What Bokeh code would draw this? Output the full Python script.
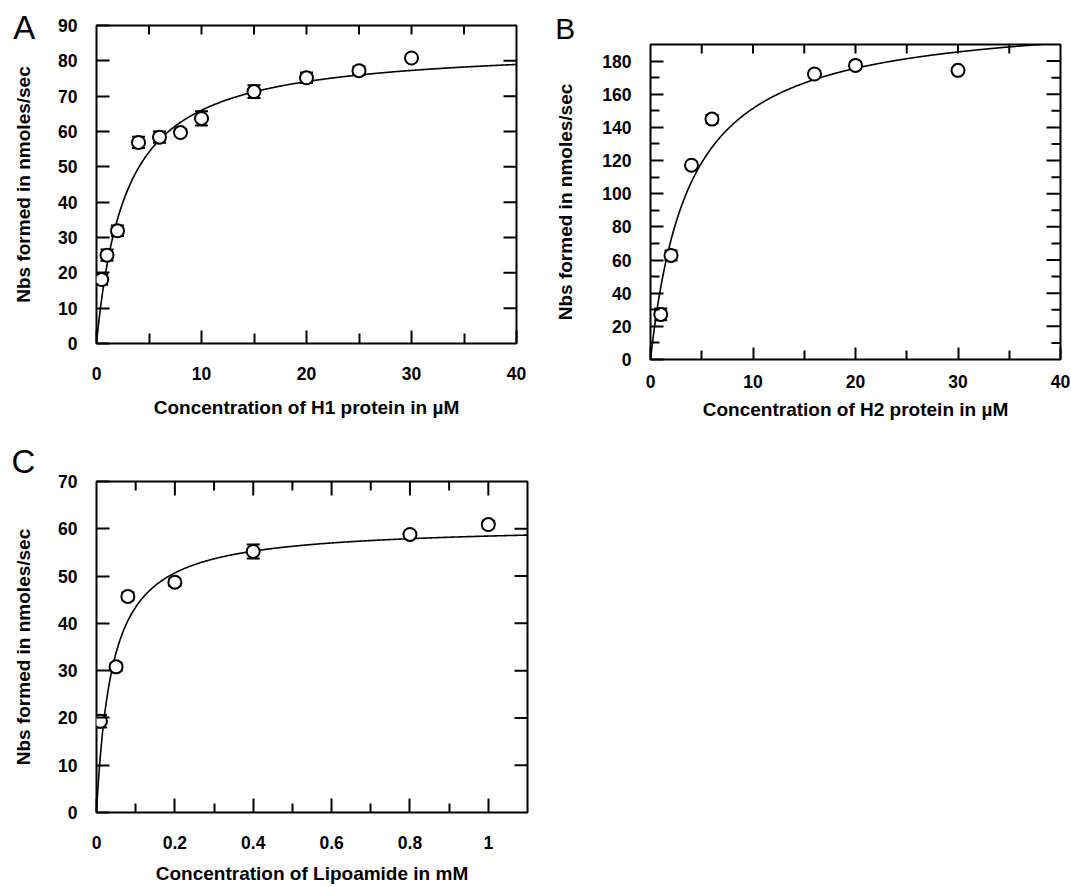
import numpy as np
from bokeh.plotting import figure
from bokeh.models import (ColumnDataSource, Whisker, TeeHead, LinearAxis, FixedTicker,
                          Label, Range1d, CustomJSTickFormatter)
from bokeh.layouts import column, row
from bokeh.embed import file_html
from bokeh.resources import INLINE

FONT = "Liberation Sans"

# ---------------- Panel A : H1 protein ----------------
a_x = [0.5, 1, 2, 4, 6, 8, 10, 15, 20, 25, 30]
a_y = [18.1, 25.0, 31.9, 56.9, 58.4, 59.7, 63.7, 71.3, 75.2, 77.2, 80.8]
a_err = [1.5, 1.6, 1.5, 1.6, 1.6, 1.0, 2.0, 1.8, 1.5, 1.2, 0.8]
a_vmax, a_km = 84.5, 2.8
a_xticks = [0, 10, 20, 30, 40]
a_xminor = [5, 15, 25, 35]
a_yticks = [0, 10, 20, 30, 40, 50, 60, 70, 80, 90]
a_top_ticks = [5, 10, 15, 20, 25, 30, 35]
a_right_ticks = [10, 20, 30, 40, 50, 60, 70, 80]
a_xlabel = "Concentration of H1 protein in µM"

# ---------------- Panel B : H2 protein ----------------
b_x = [1, 2, 4, 6, 16, 20, 30]
b_y = [27.2, 62.8, 117.2, 145.0, 172.2, 177.4, 174.4]
b_err = [3.5, 3.0, 2.0, 2.5, 2.0, 2.0, 1.5]
b_vmax, b_km = 209.0, 3.8
b_xticks = [0, 10, 20, 30, 40]
b_xminor = [5, 15, 25, 35]
b_yticks = [0, 20, 40, 60, 80, 100, 120, 140, 160, 180]
b_yminor = [10, 30, 50, 70, 90, 110, 130, 150, 170]
b_top_ticks = [5, 10, 15, 20, 25, 30, 35]
b_right_ticks = [20, 40, 60, 80, 100, 120, 140, 160, 180]
b_right_minor = [10, 30, 50, 70, 90, 110, 130, 150, 170]
b_xlabel = "Concentration of H2 protein in µM"

# ---------------- Panel C : Lipoamide ----------------
c_x = [0.01, 0.05, 0.08, 0.2, 0.4, 0.8, 1.0]
c_y = [19.3, 30.8, 45.7, 48.7, 55.2, 58.8, 60.9]
c_err = [1.3, 0.8, 0.8, 0.8, 1.5, 0.6, 0.8]
c_vmax, c_km = 60.8, 0.04
c_xticks = [0, 0.2, 0.4, 0.6, 0.8, 1.0]
c_xminor = [0.1, 0.3, 0.5, 0.7, 0.9]
c_yticks = [0, 10, 20, 30, 40, 50, 60, 70]
c_top_ticks = [0.2, 0.4, 0.6, 0.8, 1.0]
c_top_minor = [0.1, 0.3, 0.5, 0.7, 0.9]
c_right_ticks = [10, 20, 30, 40, 50, 60]
c_xlabel = "Concentration of Lipoamide in mM"

y_label = "Nbs formed in nmoles/sec"

fmt = CustomJSTickFormatter(code="return String(Math.round(tick*1000)/1000);")


def style_axis(ax, ticks, minor, major_in, minor_in, label_standoff):
    ax.ticker = FixedTicker(ticks=ticks, minor_ticks=minor)
    ax.axis_line_color = None
    ax.major_tick_in = major_in
    ax.major_tick_out = 0
    ax.minor_tick_in = minor_in
    ax.minor_tick_out = 0
    ax.major_tick_line_color = "black"
    ax.minor_tick_line_color = "black"
    ax.major_tick_line_width = 2
    ax.minor_tick_line_width = 2
    ax.formatter = fmt
    ax.major_label_text_font = FONT
    ax.major_label_text_font_style = "bold"
    ax.major_label_text_font_size = "17.5px"
    ax.major_label_text_color = "black"
    ax.major_label_standoff = label_standoff
    ax.axis_label_text_font = FONT
    ax.axis_label_text_font_style = "bold"
    ax.axis_label_text_font_size = "19px"
    ax.axis_label_text_color = "black"


def edge_ticks(p, xs, ys, length, vertical):
    # inward tick marks on the top / right edges: a dash centred on the frame
    # edge, whose outer half is clipped away by the frame
    p.scatter(xs, ys, marker="dash", size=2 * length,
              angle=(np.pi / 2 if vertical else 0.0),
              line_color="black", line_width=2)


def make_panel(x, y, err, vmax, km, xmax, ymax, xticks, xminor, yticks, yminor,
               top_sets, right_sets, xlabel, letter, letter_xy, letter_size, letter_side,
               fw, fh, borders, xstand, xlabstand, ystand, ylabstand,
               bot_in=13, bot_minor_in=10, left_in=13, left_minor_in=9):
    bl, br, bt, bb = borders
    p = figure(frame_width=fw, frame_height=fh,
               x_range=Range1d(0, xmax), y_range=Range1d(0, ymax),
               min_border_left=bl, min_border_right=br,
               min_border_top=bt, min_border_bottom=bb,
               x_axis_location=None, y_axis_location=None,
               output_backend="svg", toolbar_location=None)
    p.frame_align = False
    p.title.visible = False
    p.grid.visible = False
    p.background_fill_color = "white"
    p.border_fill_color = "white"
    p.outline_line_color = "black"
    p.outline_line_width = 2
    p.outline_line_alpha = 1.0

    below = LinearAxis()
    style_axis(below, xticks, xminor, bot_in, bot_minor_in, xstand)
    below.axis_label = xlabel
    below.axis_label_standoff = xlabstand
    p.add_layout(below, "below")

    left = LinearAxis()
    style_axis(left, yticks, yminor, left_in, left_minor_in, ystand)
    left.axis_label = y_label
    left.axis_label_standoff = ylabstand
    p.add_layout(left, "left")

    for vals, length in top_sets:
        edge_ticks(p, vals, [ymax] * len(vals), length, True)
    for vals, length in right_sets:
        edge_ticks(p, [xmax] * len(vals), vals, length, False)

    src = ColumnDataSource(dict(
        x=x, y=y,
        lo=[v - e for v, e in zip(y, err)],
        hi=[v + e for v, e in zip(y, err)],
    ))
    w = Whisker(base="x", lower="lo", upper="hi", source=src, dimension="height",
                line_color="black", line_width=1.5)
    w.upper_head = TeeHead(size=13, line_color="black", line_width=2)
    w.lower_head = TeeHead(size=13, line_color="black", line_width=2)
    p.add_layout(w)

    xf = np.linspace(0, xmax, 600)
    yf = vmax * xf / (km + xf)
    p.line(xf, yf, line_color="black", line_width=1.6)

    p.scatter("x", "y", source=src, size=13, marker="circle",
              fill_color="white", line_color="black", line_width=2)

    lab = Label(x=letter_xy[0], y=letter_xy[1], text=letter,
                text_font=FONT, text_font_size=letter_size, text_color="black",
                text_align="left", text_baseline="middle")
    # placed in a side panel (where there is spare room) so that it is not
    # clipped to the frame; it is still positioned in data units
    p.add_layout(lab, letter_side)
    return p


pA = make_panel(a_x, a_y, a_err, a_vmax, a_km, 40, 90,
                a_xticks, a_xminor, a_yticks, [],
                [(a_top_ticks, 9)], [(a_right_ticks, 13)],
                a_xlabel, "A", (-7.93, 89.38), "33px", "right",
                420, 318, (96, 30, 25, 78),
                23, 14, 19, 21)

pB = make_panel(b_x, b_y, b_err, b_vmax, b_km, 40, 190,
                b_xticks, b_xminor, b_yticks, b_yminor,
                [(b_top_ticks, 9)], [(b_right_ticks, 14), (b_right_minor, 9)],
                b_xlabel, "B", (-9.3, 199.5), "30px", "above",
                410, 315, (104, 11, 44, 66),
                15, 8, 19, 23, bot_in=12, bot_minor_in=9)

pC = make_panel(c_x, c_y, c_err, c_vmax, c_km, 1.1, 70,
                c_xticks, c_xminor, c_yticks, [],
                [(c_top_ticks, 14), (c_top_minor, 9)], [(c_right_ticks, 13)],
                c_xlabel, "C", (-0.217, 74.23), "33px", "above",
                431, 331, (96, 13, 56, 75),
                23, 11, 19, 21, bot_in=14, bot_minor_in=9)

layout = column(row(pA, pB), pC)
open("out.html", "w").write(file_html(layout, INLINE))
